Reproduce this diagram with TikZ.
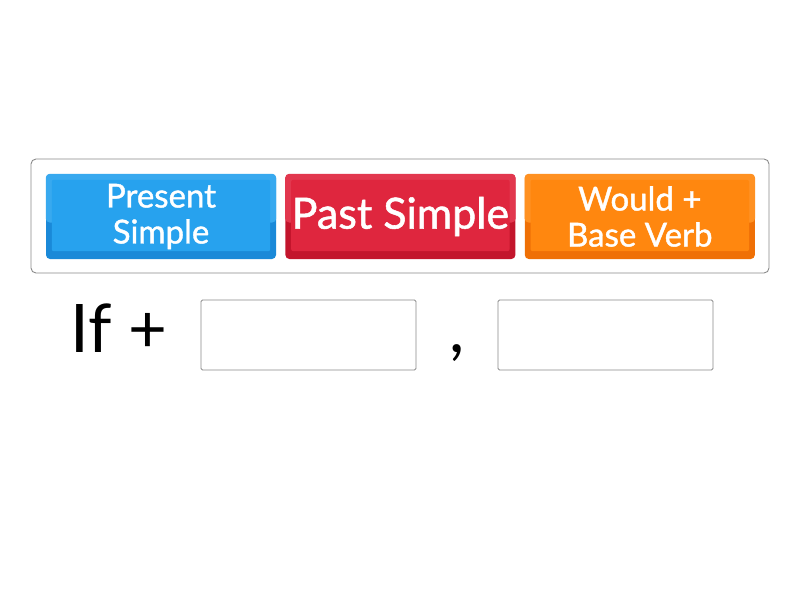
\documentclass[tikz,border=0pt]{standalone}
\usepackage{fontspec}
\setmainfont{Lato}
\newfontfamily\tilefont{Lato}[FakeBold=1.2]
\usetikzlibrary{positioning}
\definecolor{blueface}{HTML}{27A2EE}
\definecolor{blueedge}{HTML}{1A89D8}
\definecolor{redface}{HTML}{DF263E}
\definecolor{rededge}{HTML}{C3152C}
\definecolor{orangeface}{HTML}{FF870F}
\definecolor{orangeedge}{HTML}{EF7006}
\definecolor{framegray}{HTML}{8A8A8A}
\tikzset{
  tile/.style={minimum width=230pt, minimum height=85pt, inner sep=0pt,
    rounded corners=4pt, align=center, text=white,
    font=\tilefont\fontsize{33}{36}\selectfont},
  slot/.style={draw=framegray, line width=0.8pt, rounded corners=1.5pt,
    minimum width=215pt, minimum height=70pt, inner sep=0pt},
}
\begin{document}
\begin{tikzpicture}[x=1pt,y=-1pt]
  \useasboundingbox[fill=white] (0,0) rectangle (800,600);
  % answer frame
  \draw[framegray, line width=0.9pt, rounded corners=5pt] (31,159) rectangle (769,273);
  % tiles
  \node[tile, fill=blueedge] (present) at (161,216.5) {};
  \node[tile, fill=rededge, right=9pt of present] (past) {};
  \node[tile, fill=orangeedge, right=9pt of past] (would) {};
  \fill[blueface!92!white, rounded corners=4pt] (present.north west) rectangle ([yshift=-6pt]present.east);
  \fill[blueface, rounded corners=2pt] ([xshift=6pt,yshift=-6pt]present.north west) rectangle ([xshift=-6pt,yshift=8pt]present.south east);
  \fill[redface!92!white, rounded corners=4pt] (past.north west) rectangle ([yshift=-6pt]past.east);
  \fill[redface, rounded corners=2pt] ([xshift=6pt,yshift=-6pt]past.north west) rectangle ([xshift=-6pt,yshift=8pt]past.south east);
  \fill[orangeface!92!white, rounded corners=4pt] (would.north west) rectangle ([yshift=-6pt]would.east);
  \fill[orangeface, rounded corners=2pt] ([xshift=6pt,yshift=-6pt]would.north west) rectangle ([xshift=-6pt,yshift=8pt]would.south east);
  \node[tile] at (present) {Present\\Simple};
  \node[tile, font=\tilefont\fontsize{43}{46}\selectfont] at (past) {Past Simple};
  \node[tile] at (would) {Would +\\Base Verb};
  % sentence
  \node[font=\fontsize{67}{72}\selectfont, anchor=base west, inner sep=0pt] (ifplus) at (70,352) {If +};
  \node[slot] (first) at (308.5,335) {};
  \node[font=\fontsize{67}{72}\selectfont, inner sep=0pt, anchor=base] (comma) at (457,352) {,};
  \node[slot] (second) at (605.5,335) {};
\end{tikzpicture}
\end{document}
